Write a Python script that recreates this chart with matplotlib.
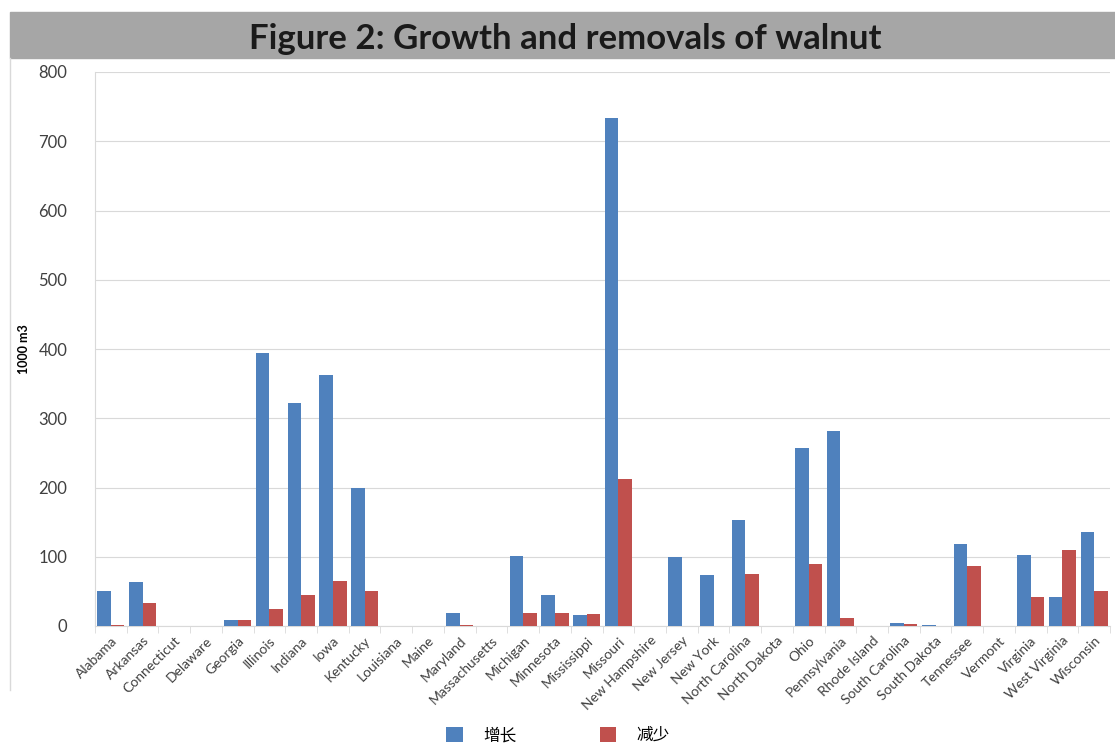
import numpy as np
import matplotlib.pyplot as plt

plt.rcParams['font.family'] = ['Lato', 'Noto Sans CJK SC', 'DejaVu Sans']

states = ['Alabama', 'Arkansas', 'Connecticut', 'Delaware', 'Georgia', 'Illinois',
          'Indiana', 'Iowa', 'Kentucky', 'Louisiana', 'Maine', 'Maryland',
          'Massachusetts', 'Michigan', 'Minnesota', 'Mississippi', 'Missouri',
          'New Hampshire', 'New Jersey', 'New York', 'North Carolina', 'North Dakota',
          'Ohio', 'Pennsylvania', 'Rhode Island', 'South Carolina', 'South Dakota',
          'Tennessee', 'Vermont', 'Virginia', 'West Virginia', 'Wisconsin']
growth = [50, 63, 0, 0, 8, 394, 322, 362, 200, 0, 0, 19, 0, 101, 45, 16, 733,
          0, 99, 73, 153, 0, 257, 281, 0, 5, 1, 118, 0, 102, 42, 136]
removals = [2, 33, 0, 0, 8, 24, 45, 65, 50, 0, 0, 2, 0, 19, 19, 18, 212,
            0, 0, 0, 75, 0, 89, 11, 0, 3, 0, 87, 0, 42, 110, 51]

blue = '#4F81BD'
red = '#C0504D'

fig = plt.figure(figsize=(11.15, 7.49), dpi=100)

# title band
fig.patches.append(plt.Rectangle((10 / 1115, 1 - 58 / 749), 1105 / 1115, 46 / 749,
                                 transform=fig.transFigure, color='#A6A6A6', zorder=0))
fig.text(565 / 1115, 1 - 39 / 749, 'Figure 2: Growth and removals of walnut',
         ha='center', va='center', fontsize=25, fontweight='bold', color='#1a1a1a')
fig.add_artist(plt.Line2D([10 / 1115, 10 / 1115], [1 - 58 / 749, 1 - 690 / 749],
                          transform=fig.transFigure, color='#D9D9D9', lw=1))

ax = fig.add_axes([95 / 1115, 1 - 626 / 749, 1015 / 1115, 554 / 749])
x = np.arange(len(states))
w = 0.43
ax.bar(x - w / 2, growth, w, color=blue, label='增长', zorder=3)
ax.bar(x + w / 2, removals, w, color=red, label='减少', zorder=3)

ax.set_xlim(-0.5, len(states) - 0.5)
ax.set_ylim(0, 800)
ax.set_yticks(range(0, 801, 100))
ax.yaxis.grid(True, color='#D9D9D9', lw=0.8, zorder=0)
ax.set_xticks(x)
ax.set_xticklabels(states, rotation=45, ha='right', rotation_mode='anchor',
                   fontsize=10, color='#404040')
ax.set_xticks(np.arange(-0.5, len(states)), minor=True)
ax.tick_params(axis='x', which='major', length=0, pad=6)
ax.tick_params(axis='x', which='minor', length=5, color='#D9D9D9')
ax.tick_params(axis='y', length=0, labelsize=12, colors='#404040', pad=20)
for s in ['top', 'right']:
    ax.spines[s].set_visible(False)
ax.spines['left'].set_color('#D9D9D9')
ax.spines['bottom'].set_color('#D9D9D9')
ax.set_ylabel('1000 m3', fontsize=9, fontweight='bold', labelpad=6)

fig.legend(loc='center', bbox_to_anchor=(558 / 1115, 1 - 735 / 749), ncol=2,
           frameon=False, fontsize=12, handlelength=1, handleheight=1,
           columnspacing=5, handletextpad=1.2)

fig.savefig('out.png', dpi=100)
